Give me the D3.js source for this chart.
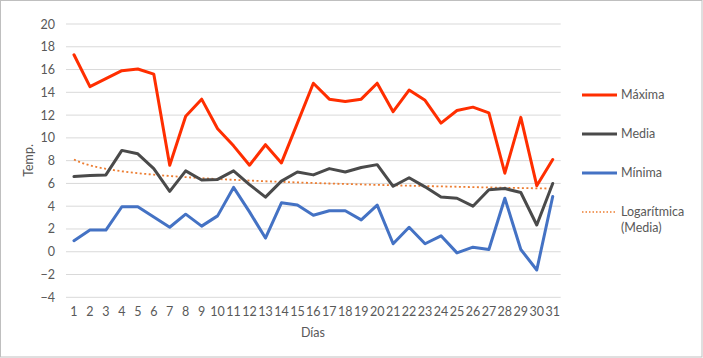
<!DOCTYPE html>
<html><head><meta charset="utf-8">
<script src="https://cdn.jsdelivr.net/npm/d3@7"></script>
<style>body{margin:0;background:#fff}svg{display:block}text{font-family:Lato,"Open Sans",sans-serif;fill:#595959}</style>
</head><body><svg id="c" width="703" height="358"></svg>
<script>
const days = d3.range(1, 32).map(String);
const maxima = [17.3,14.5,15.2,15.9,16.05,15.6,7.6,11.9,13.4,10.8,9.3,7.6,9.4,7.8,11.3,14.8,13.4,13.2,13.4,14.8,12.3,14.2,13.3,11.3,12.4,12.7,12.2,6.9,11.8,5.8,8.1];
const media = [6.6,6.7,6.75,8.9,8.6,7.3,5.3,7.1,6.3,6.35,7.1,5.9,4.8,6.2,7.0,6.75,7.3,7.0,7.4,7.65,5.75,6.5,5.7,4.8,4.7,4.0,5.45,5.55,5.2,2.35,6.0];
const minima = [0.97,1.9,1.9,3.95,3.95,3.05,2.15,3.3,2.25,3.15,5.65,3.5,1.2,4.3,4.1,3.2,3.6,3.6,2.8,4.1,0.7,2.15,0.7,1.4,-0.1,0.4,0.2,4.7,0.2,-1.6,4.85];
const yTicks = [-4,-2,0,2,4,6,8,10,12,14,16,18,20];
const seriesNames = ["Máxima","Media","Mínima"];
const trendName = ["Logarítmica","(Media)"];
const colors = {"Máxima":"#FF2E00","Media":"#4A4A4A","Mínima":"#4472C4",trend:"#ED7D31"};

const svg = d3.select("#c");
svg.append("rect").attr("x",0.5).attr("y",0.5).attr("width",701.5).attr("height",356.5)
  .attr("fill","#fff").attr("stroke","#BFBFBF");

const x = d3.scaleBand().domain(days).range([66, 560.7]);
const y = d3.scaleLinear().domain([-4, 20]).range([297.3, 24]);
const cx = d => x(d) + x.bandwidth()/2;

svg.append("g").selectAll("line").data(yTicks).join("line")
  .attr("x1",66).attr("x2",560.7).attr("y1",d=>y(d)).attr("y2",d=>y(d))
  .attr("stroke","#D9D9D9").attr("stroke-width",1);

const yAxis = d3.axisLeft(y).tickValues(yTicks).tickSize(0).tickPadding(0);
const gy = svg.append("g").attr("transform","translate(55,0)").call(yAxis);
gy.select(".domain").remove();
gy.selectAll("text").attr("font-size",12.5).style("fill","#595959").style("font-family","Lato");

const xAxis = d3.axisBottom(x).tickSize(0).tickPadding(0);
const gx = svg.append("g").attr("transform","translate(0,307.5)").call(xAxis);
gx.select(".domain").remove();
gx.selectAll("text").attr("font-size",12.5).style("fill","#595959").style("font-family","Lato");

svg.append("text").attr("x",313).attr("y",337).attr("text-anchor","middle").attr("font-size",12.5).text("Días");
svg.append("text").attr("transform","translate(33,160.5) rotate(-90)").attr("text-anchor","middle").attr("font-size",12.5).text("Temp.");

// logarithmic least-squares trendline of Media
const lx = days.map(d => Math.log(+d));
const mx = d3.mean(lx), my = d3.mean(media);
const a = d3.sum(lx.map((v,i)=>(v-mx)*(media[i]-my))) / d3.sum(lx.map(v=>(v-mx)*(v-mx)));
const b = my - a*mx;
const trendPts = d3.range(0, 61).map(i => { const t = 1 + i*0.5; return [t, a*Math.log(t)+b]; });
const xLin = d3.scaleLinear().domain([1,31]).range([cx("1"), cx("31")]);
svg.append("path").datum(trendPts)
  .attr("d", d3.line().x(p=>xLin(p[0])).y(p=>y(p[1])))
  .attr("fill","none").attr("stroke",colors.trend).attr("stroke-width",1.8)
  .attr("stroke-dasharray","2,2.5");

const line = d3.line().x((v,i)=>cx(days[i])).y(v=>y(v));
[["Mínima",minima],["Media",media],["Máxima",maxima]].forEach(([name,vals])=>{
  svg.append("path").datum(vals).attr("d",line).attr("fill","none")
    .attr("stroke",colors[name]).attr("stroke-width",3).attr("stroke-linejoin","round").attr("stroke-linecap","round");
});

const legY = [95,134,173];
seriesNames.forEach((nm,i)=>{
  svg.append("line").attr("x1",582).attr("x2",617).attr("y1",legY[i]).attr("y2",legY[i])
    .attr("stroke",colors[nm]).attr("stroke-width",3);
  svg.append("text").attr("x",621).attr("y",legY[i]).attr("dy","0.35em").attr("font-size",12.5).text(nm);
});
svg.append("line").attr("x1",582).attr("x2",617).attr("y1",212).attr("y2",212)
  .attr("stroke",colors.trend).attr("stroke-width",1.5).attr("stroke-dasharray","1.5,2");
svg.append("text").attr("x",621).attr("y",212).attr("dy","0.35em").attr("font-size",12.5).text(trendName[0]);
svg.append("text").attr("x",621).attr("y",228).attr("dy","0.35em").attr("font-size",12.5).text(trendName[1]);
</script></body></html>
